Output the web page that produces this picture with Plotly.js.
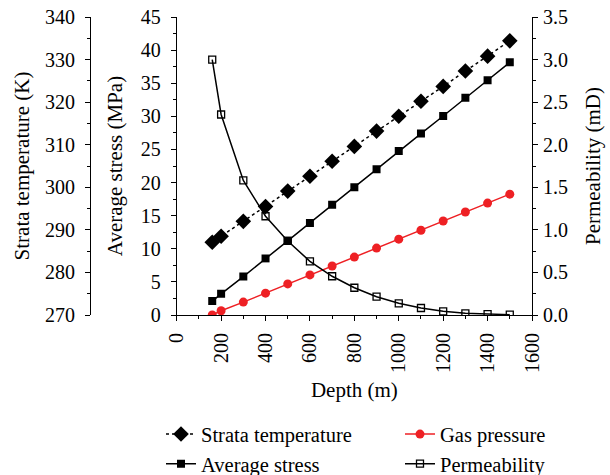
<!DOCTYPE html>
<html>
<head>
<meta charset="utf-8">
<script src="https://cdn.plot.ly/plotly-3.0.1.min.js"></script>
<style>html,body{margin:0;padding:0;background:#fff}#chart{width:610px;height:475px}</style>
</head>
<body>
<div id="chart"></div>
<script>
const depth = [160, 200, 300, 400, 500, 600, 700, 800, 900, 1000, 1100, 1200, 1300, 1400, 1500];
const strataTemperature = [287.1, 288.5, 292.0, 295.5, 299.1, 302.6, 306.1, 309.6, 313.2, 316.7, 320.2, 323.7, 327.3, 330.8, 334.4];
const averageStress = [2.1, 3.2, 5.8, 8.55, 11.2, 13.9, 16.65, 19.3, 22.0, 24.75, 27.4, 30.05, 32.8, 35.45, 38.15];
const gasPressure = [0.0, 0.65, 1.95, 3.3, 4.7, 6.05, 7.4, 8.75, 10.1, 11.45, 12.8, 14.2, 15.55, 16.9, 18.25];
const permeability = [3.0, 2.355, 1.58, 1.16, 0.87, 0.63, 0.455, 0.32, 0.215, 0.137, 0.082, 0.043, 0.02, 0.01, 0.004];

const fam = 'Liberation Serif, Times New Roman, serif';
const tickFont = {family: fam, size: 20, color: '#000'};
const titleFont = {family: fam, size: 21, color: '#000'};
const legendFont = {family: fam, size: 20.5, color: '#000'};
const lineW = 1.5;

const traces = [
  {x: depth, y: strataTemperature, name: 'Strata temperature', yaxis: 'y2', mode: 'lines+markers',
   line: {color: '#000', width: lineW, dash: 'dot'}, marker: {symbol: 'diamond', size: 12, color: '#000'}},
  {x: depth, y: gasPressure, name: 'Gas pressure', yaxis: 'y', mode: 'lines+markers',
   line: {color: '#ee2024', width: lineW}, marker: {symbol: 'circle', size: 9, color: '#ee2024'}},
  {x: depth, y: averageStress, name: 'Average stress', yaxis: 'y', mode: 'lines+markers',
   line: {color: '#000', width: lineW}, marker: {symbol: 'square', size: 8, color: '#000'}},
  {x: depth, y: permeability, name: 'Permeability', yaxis: 'y3', mode: 'lines+markers',
   line: {color: '#000', width: lineW}, marker: {symbol: 'square-open', size: 7, color: '#000', line: {width: 1.3}}}
];

const axisCommon = {
  showgrid: false, zeroline: false, showline: true, linecolor: '#000', linewidth: 1,
  ticks: 'outside', ticklen: 5, tickwidth: 1, tickcolor: '#000',
  tickfont: tickFont, mirror: false, automargin: false
};
const minorCommon = {ticklen: 3, tickcolor: '#000', tickwidth: 1, ticks: 'outside'};

const layout = {
  width: 610, height: 475,
  margin: {l: 0, r: 78, t: 17, b: 160, autoexpand: false},
  paper_bgcolor: '#fff', plot_bgcolor: '#fff',
  font: titleFont,
  showlegend: true,
  legend: {orientation: 'h', x: 161 / 532, xanchor: 'left', y: -0.333, yanchor: 'top',
           font: legendFont, entrywidth: 194, entrywidthmode: 'pixels', tracegroupgap: 0,
           bgcolor: 'rgba(0,0,0,0)'},
  xaxis: Object.assign({}, axisCommon, {
    domain: [176.7 / 532, 1], range: [0, 1600], dtick: 200, tick0: 0, tickangle: -90,
    ticklabelstandoff: 4,
    minor: Object.assign({dtick: 100}, minorCommon),
    title: {text: 'Depth (m)', font: titleFont, standoff: 10}
  }),
  yaxis: Object.assign({}, axisCommon, {
    range: [0, 45], dtick: 5, anchor: 'x', ticklabelstandoff: 6,
    minor: Object.assign({dtick: 2.5}, minorCommon),
    title: {text: 'Average stress (MPa)', font: titleFont, standoff: 12}
  }),
  yaxis2: Object.assign({}, axisCommon, {
    range: [270, 340], dtick: 10, anchor: 'free', position: 90 / 532, overlaying: 'y', side: 'left',
    ticklabelstandoff: 6,
    minor: Object.assign({dtick: 5}, minorCommon),
    title: {text: 'Strata temperature (K)', font: titleFont, standoff: 8}
  }),
  yaxis3: Object.assign({}, axisCommon, {
    range: [0, 3.5], dtick: 0.5, anchor: 'x', overlaying: 'y', side: 'right', tickformat: '.1f',
    ticklabelstandoff: 1,
    minor: Object.assign({dtick: 0.25}, minorCommon),
    title: {text: 'Permeability (mD)', font: titleFont, standoff: 18}
  })
};

Plotly.newPlot('chart', traces, layout, {displayModeBar: false, staticPlot: true});
</script>
</body>
</html>
